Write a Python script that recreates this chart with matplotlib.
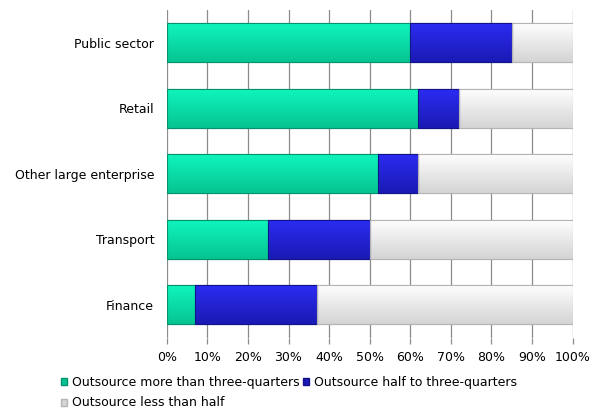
import numpy as np
import matplotlib
matplotlib.use("Agg")
import matplotlib.pyplot as plt
from matplotlib.colors import LinearSegmentedColormap
from matplotlib.patches import Patch

categories = ["Public sector", "Retail", "Other large enterprise", "Transport", "Finance"]
more_than_three_quarters = [60, 62, 52, 25, 7]
half_to_three_quarters = [25, 10, 10, 25, 30]
less_than_half = [100 - a - b for a, b in zip(more_than_three_quarters, half_to_three_quarters)]
series_names = ["Outsource more than three-quarters",
                "Outsource half to three-quarters",
                "Outsource less than half"]
tick_values = list(range(0, 101, 10))
tick_labels = [f"{v}%" for v in tick_values]

# (top colour, bottom colour, edge colour) for each series gradient
styles = [
    ("#10F6BE", "#06C492", "#04936C"),
    ("#2C2CF4", "#1A1AB4", "#12128A"),
    ("#FFFFFF", "#D4D4D4", "#B4B4B4"),
]

plt.rcParams["font.family"] = ["DejaVu Sans"]
fig = plt.figure(figsize=(6.01, 4.08), dpi=100)
ax = fig.add_axes([166.7 / 601, 1 - 337.5 / 408, 406 / 601, 327.5 / 408])

n = len(categories)
ypos = np.arange(n)[::-1]
bar_h = 0.6
left = np.zeros(n)
grad = np.linspace(0, 1, 64).reshape(-1, 1)

for vals, (top, bot, edge) in zip(
        [more_than_three_quarters, half_to_three_quarters, less_than_half], styles):
    bars = ax.barh(ypos, vals, left=left, height=bar_h, color=bot,
                   edgecolor=edge, linewidth=0.8, zorder=3)
    cmap = LinearSegmentedColormap.from_list("g", [bot, top])
    for b in bars:
        x0, y0 = b.get_x(), b.get_y()
        w, h = b.get_width(), b.get_height()
        im = ax.imshow(grad, cmap=cmap, origin="lower", aspect="auto",
                       extent=(x0, x0 + w, y0, y0 + h), zorder=3.5,
                       interpolation="bicubic")
        im.set_clip_path(b)
        ax.add_patch(plt.Rectangle((x0, y0), w, h, fill=False, edgecolor=edge,
                                   linewidth=0.8, zorder=4))
    left = left + np.array(vals)

ax.set_xlim(0, 100)
ax.set_ylim(-0.5, n - 0.5)
ax.set_xticks(tick_values)
ax.set_xticklabels(tick_labels, fontsize=9)
ax.set_yticks(ypos)
ax.set_yticklabels(categories, fontsize=9)
ax.xaxis.grid(True, color="#8C8C8C", linewidth=0.9, zorder=0)
ax.set_axisbelow(True)
for s in ax.spines.values():
    s.set_visible(False)
ax.tick_params(axis="x", length=4, color="#8C8C8C", width=0.9, pad=5.5)
ax.tick_params(axis="y", length=0, pad=9)

handles = [Patch(facecolor=styles[i][1], edgecolor=styles[i][2], label=series_names[i])
           for i in range(3)]
order = [0, 2, 1]
fig.legend([handles[i] for i in order], [series_names[i] for i in order],
           loc="upper left", bbox_to_anchor=(61 / 601, 1 - 376 / 408), ncol=2,
           frameon=False, fontsize=9, handlelength=0.5, handleheight=0.5,
           handletextpad=0.4, columnspacing=0.25, labelspacing=0.6,
           borderaxespad=0, borderpad=0)

fig.savefig("out.png", dpi=100)
